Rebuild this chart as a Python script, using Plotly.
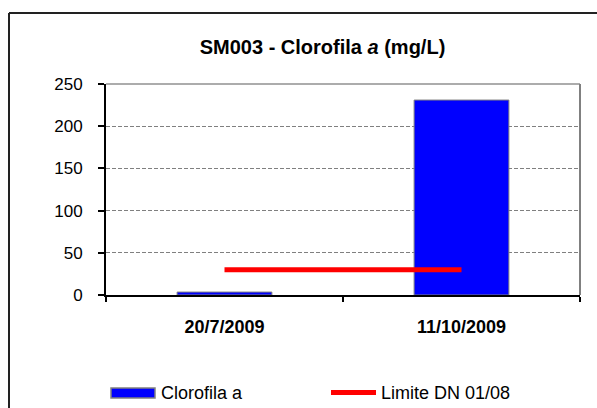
import plotly.graph_objects as go

# Sampling dates and measured chlorophyll-a (mg/L)
dates = ["20/7/2009", "11/10/2009"]
clorofila = [3.5, 231]
# Regulatory limit (DN 01/08) drawn across both dates
limite = [30, 30]
y_ticks = [0, 50, 100, 150, 200, 250]

W, H = 597, 408
L, R, T, B = 106, 580, 84, 295  # plot area edges in pixels

def px(x):
    return (x - L) / (R - L)

def py(y):
    return (B - y) / (B - T)

FONT = "Liberation Sans, Arial, sans-serif"

fig = go.Figure()
fig.add_trace(go.Bar(
    x=dates, y=clorofila, name="Clorofila a",
    marker=dict(color="#0000FF", line=dict(color="#808080", width=1)),
    width=0.4, showlegend=False,
))
fig.add_trace(go.Scatter(
    x=dates, y=limite, name="Limite DN 01/08", mode="lines",
    line=dict(color="#FF0000", width=5), showlegend=False,
))

shapes = [
    # frame of the chart area
    dict(type="line", xref="paper", yref="paper", x0=px(9), x1=px(640), y0=py(13), y1=py(13),
         line=dict(color="#222222", width=2)),
    dict(type="line", xref="paper", yref="paper", x0=px(9), x1=px(9), y0=py(13), y1=py(450),
         line=dict(color="#222222", width=2)),
    # grey top / right border of the plot area
    dict(type="line", xref="paper", yref="paper", x0=0, x1=1, y0=1, y1=1,
         line=dict(color="#909090", width=1.5)),
    dict(type="line", xref="paper", yref="paper", x0=1, x1=1, y0=0, y1=1,
         line=dict(color="#808080", width=2)),
    # legend swatches
    dict(type="rect", xref="paper", yref="paper", x0=px(111), x1=px(155), y0=py(398), y1=py(388),
         fillcolor="#0000FF", line=dict(color="#808080", width=1.5)),
    dict(type="line", xref="paper", yref="paper", x0=px(331), x1=px(376), y0=py(392.5), y1=py(392.5),
         line=dict(color="#FF0000", width=5)),
]

annotations = [
    dict(xref="paper", yref="paper", x=px(159), y=py(393), text="Clorofila a", showarrow=False,
         xanchor="left", yanchor="middle", font=dict(family=FONT, size=18, color="#000")),
    dict(xref="paper", yref="paper", x=px(379), y=py(393), text="Limite DN 01/08", showarrow=False,
         xanchor="left", yanchor="middle", font=dict(family=FONT, size=18, color="#000")),
]

fig.update_layout(
    width=W, height=H,
    margin=dict(l=L, r=W - R, t=T, b=H - B),
    paper_bgcolor="white", plot_bgcolor="white",
    title=dict(text="<b>SM003 - Clorofila <i>a</i> (mg/L)</b>", xref="paper", x=px(322.5),
               xanchor="center", yref="container", y=1 - 47 / H, yanchor="middle",
               font=dict(family=FONT, size=20, color="#000")),
    shapes=shapes, annotations=annotations,
    bargap=0.6,
    xaxis=dict(
        type="category", showline=True, linecolor="#000", linewidth=2,
        ticks="outside", ticklen=5, tickcolor="#000", tickwidth=1.5, tickson="boundaries",
        showgrid=False, ticklabelstandoff=14,
        tickfont=dict(family=FONT, size=18, color="#000", weight="bold"),
    ),
    yaxis=dict(
        range=[0, 250], tickvals=y_ticks, showline=True, linecolor="#000", linewidth=2,
        ticks="outside", ticklen=6, tickcolor="#000", tickwidth=1.5,
        showgrid=True, gridcolor="#808080", griddash="4px,2px", gridwidth=1,
        zeroline=False, ticklabelstandoff=12,
        tickfont=dict(family=FONT, size=17, color="#000"),
    ),
)

fig.write_html("out.html")
